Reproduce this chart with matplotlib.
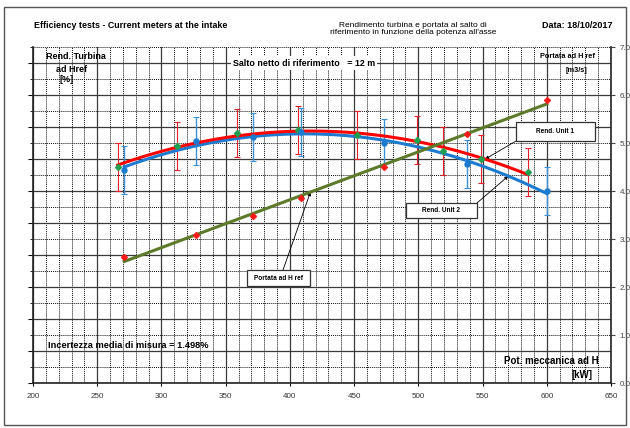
import matplotlib

matplotlib.use("Agg")

import matplotlib.pyplot as plt
import numpy as np
from matplotlib.patches import Rectangle

plt.rcParams["font.family"] = ["Liberation Sans", "DejaVu Sans"]

# measured points (power in kW, efficiency in %, flow in m3/s)
power_unit1 = [266, 312, 359, 406, 452, 499, 519, 549, 585]
eff_unit1 = [83.5, 84.8, 85.6, 85.8, 85.5, 85.2, 84.5, 84.0, 83.2]
power_unit2 = [271, 327, 371, 409, 473, 538, 600]
eff_unit2 = [83.3, 85.1, 85.4, 85.7, 85.0, 83.7, 82.0]
flow_ref = [2.63, 3.08, 3.48, 3.85, 4.49, 5.18, 5.90]
uncertainty = 1.5

x_ticks = [200, 250, 300, 350, 400, 450, 500, 550, 600, 650]
flow_ticks = [0, 1, 2, 3, 4, 5, 6, 7]

W, H = 630, 428


def fx(x):
    return x / W


def fy(y):
    return 1 - y / H


fig = plt.figure(figsize=(6.3, 4.28), dpi=100)
ax = fig.add_axes([fx(33), fy(383), (611 - 33) / W, (383 - 47) / H])

ax.set_xlim(200, 650)
ax.set_ylim(70, 91)
ax.set_xticks(x_ticks)
ax.set_xticks(np.arange(200, 651, 10), minor=True)
ax.set_yticks(np.arange(70, 91, 2))
ax.set_yticks(np.arange(71, 92, 2), minor=True)
ax.grid(which="major", color="#3a3a3a", linewidth=0.9, linestyle="-")
ax.grid(which="minor", color="#111", linewidth=0.7, linestyle=(0, (1, 1)))
ax.set_axisbelow(True)
ax.tick_params(axis="y", which="both", left=False, labelleft=False)
ax.tick_params(axis="x", which="minor", bottom=False)
ax.tick_params(axis="x", which="major", length=2, labelsize=5.8, labelcolor="#333", pad=5)
ax.spines["top"].set_visible(False)
ax.spines["right"].set_visible(False)
for side in ("left", "bottom"):
    ax.spines[side].set_linewidth(1.2)
    ax.spines[side].set_color("#222")

# efficiency: measured points with error bars + polynomial trend
ax.errorbar(power_unit1, eff_unit1, yerr=uncertainty, fmt="none", ecolor="#e8202a",
            elinewidth=0.8, capsize=2, capthick=0.8, zorder=3)
ax.errorbar(power_unit2, eff_unit2, yerr=uncertainty, fmt="none", ecolor="#3d8fd6",
            elinewidth=1.0, capsize=2, capthick=0.8, zorder=3)

fit1 = np.polyfit(power_unit1, eff_unit1, 2)
fit2 = np.polyfit(power_unit2, eff_unit2, 2)
xs1 = np.linspace(min(power_unit1), max(power_unit1), 200)
xs2 = np.linspace(min(power_unit2), max(power_unit2), 200)
ax.plot(xs2, np.polyval(fit2, xs2), color="#1c7bd0", linewidth=2.2, zorder=4)
ax.plot(xs1, np.polyval(fit1, xs1), color="#ff0000", linewidth=2.2, zorder=4)
ax.plot(power_unit1, eff_unit1, linestyle="none", marker="D", markersize=3,
        color="#1fa050", zorder=5)
ax.plot(power_unit2, eff_unit2, linestyle="none", marker="o", markersize=3.6,
        color="#1c7bd0", zorder=5)

# flow on secondary axis
ax2 = ax.twinx()
ax2.set_ylim(0, 7)
ax2.set_yticks(flow_ticks)
ax2.set_yticklabels([f"{v:.1f}" for v in flow_ticks])
ax2.tick_params(axis="y", length=3, labelsize=5.8, labelcolor="#444", pad=3, color="#444")
for side in ("top", "left", "bottom"):
    ax2.spines[side].set_visible(False)
ax2.spines["right"].set_linewidth(1.2)
ax2.spines["right"].set_color("#222")

lin = np.polyfit(power_unit2, flow_ref, 1)
ax2.plot(xs2, np.polyval(lin, xs2), color="#5c7a29", linewidth=2.2, zorder=4)
ax2.plot(power_unit2, flow_ref, linestyle="none", marker="D", markersize=3,
         color="#ff1a1a", zorder=5)

# labels inside the plot
bold = dict(fontweight="bold", color="black")
fig.text(fx(76), fy(57), "Rend. Turbina", fontsize=6.5, ha="center", va="center", **bold)
fig.text(fx(72), fy(69), "ad Href", fontsize=6.5, ha="center", va="center", **bold)
fig.text(fx(67), fy(80), "[%]", fontsize=6.5, ha="center", va="center", **bold)
fig.text(fx(304), fy(63), "Salto netto di riferimento   = 12 m", fontsize=6.4,
         ha="center", va="center",
         bbox=dict(facecolor="white", edgecolor="none", pad=1.5), **bold)
fig.text(fx(567), fy(57), "Portata ad H ref", fontsize=5.3, ha="center", va="center", **bold)
fig.text(fx(576), fy(71), "[m3/s]", fontsize=5.3, ha="center", va="center", **bold)
fig.text(fx(48), fy(346), "Incertezza media di misura = 1.498%", fontsize=6.7,
         ha="left", va="center", **bold)
fig.text(fx(599), fy(361), "Pot. meccanica ad H", fontsize=7, ha="right", va="center", **bold)
fig.text(fx(592), fy(375), "[kW]", fontsize=7, ha="right", va="center", **bold)

# header
fig.text(fx(34), fy(25), "Efficiency tests - Current meters at the intake", fontsize=6.4,
         ha="left", va="center", **bold)
fig.text(fx(413), fy(29), "Rendimento turbina e portata al salto di\n"
         "riferimento in funzione della potenza all'asse", fontsize=6,
         ha="center", va="center", linespacing=1.15)
fig.text(fx(612), fy(25), "Data: 18/10/2017", fontsize=6.5, ha="right", va="center", **bold)

# callout boxes with arrows
callouts = [
    ("Rend. Unit 1", (516, 122, 595, 141), (516, 141), ax, (552, np.polyval(fit1, 552))),
    ("Rend. Unit 2", (406, 203, 477, 218), (477, 203), ax, (570, np.polyval(fit2, 570))),
    ("Portata ad H ref", (247, 270, 310, 286), (283, 270), ax2, (416, np.polyval(lin, 416))),
]
for label, (x0, y0, x1, y1), start, target_ax, target in callouts:
    fig.add_artist(Rectangle((fx(x0), fy(y1)), (x1 - x0) / W, (y1 - y0) / H,
                             transform=fig.transFigure, facecolor="white",
                             edgecolor="#333", linewidth=0.9, zorder=5))
    fig.text(fx((x0 + x1) / 2), fy((y0 + y1) / 2), label, fontsize=4.7,
             ha="center", va="center", zorder=6, **bold)
    target_ax.annotate("", xy=target, xycoords="data",
                       xytext=(fx(start[0]), fy(start[1])), textcoords="figure fraction",
                       arrowprops=dict(arrowstyle="-|>", color="black", linewidth=0.6,
                                       mutation_scale=5, shrinkA=0, shrinkB=0))

# outer frame
fig.add_artist(Rectangle((fx(4), fy(425)), (626 - 4) / W, (425 - 7) / H,
                         transform=fig.transFigure, fill=False,
                         edgecolor="#555", linewidth=1.0))

fig.savefig("out.png", dpi=100)
plt.close(fig)
